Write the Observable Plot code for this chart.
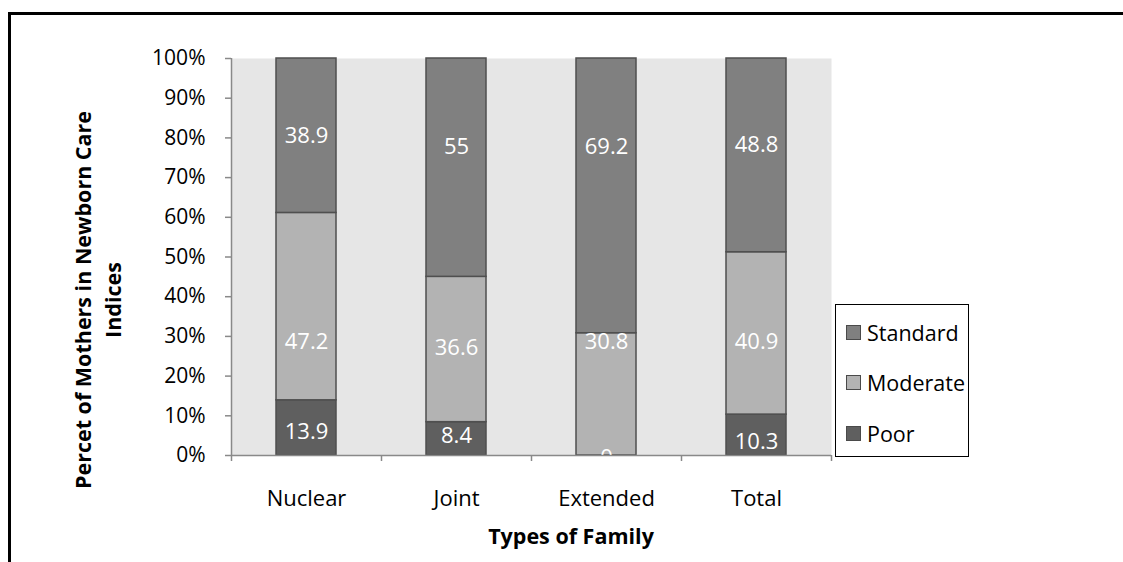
<!DOCTYPE html>
<html>
<head>
<meta charset="utf-8">
<script src="https://cdn.jsdelivr.net/npm/d3@7"></script>
<script src="https://cdn.jsdelivr.net/npm/@observablehq/plot@0.6"></script>
<style>
  html, body { margin: 0; padding: 0; background: #fff; }
  #chart { position: relative; width: 1123px; height: 562px; overflow: hidden; font-family: "Open Sans", sans-serif; }
  #chart svg { position: absolute; left: 0; top: 0; }
  .border { position: absolute; left: 8px; top: 12px; width: 1200px; height: 700px;
            border-top: 3.5px solid #000; border-left: 3.5px solid #000; }
  .ytitle { position: absolute; left: 98px; top: 300px; transform: translate(-50%, -50%) rotate(-90deg);
            font-weight: bold; font-size: 21.5px; line-height: 30px; text-align: center; white-space: nowrap; color: #000; }
  .xtitle { position: absolute; left: 571px; top: 535px; transform: translate(-50%, -50%);
            font-weight: bold; font-size: 21.5px; white-space: nowrap; color: #000; }
  .legend { position: absolute; left: 835px; top: 304px; width: 134px; height: 153px;
            border: 1.5px solid #000; background: #fff; box-sizing: border-box; }
  .legend .row { position: absolute; left: 10px; height: 30px; display: flex; align-items: center;
                 font-size: 21.5px; color: #000; white-space: nowrap; }
  .legend .sw { width: 15px; height: 15px; border: 1px solid #4a4a4a; margin-right: 6px; box-sizing: border-box; }
</style>
</head>
<body>
<div id="chart"></div>
<script>
// Types of family and newborn care levels
const families = ["Nuclear", "Joint", "Extended", "Total"];
const levels = ["Poor", "Moderate", "Standard"];

// Percent of mothers in each care level
const poor = [13.9, 8.4, 0, 10.3];
const moderate = [47.2, 36.6, 30.8, 40.9];
const standard = [38.9, 55, 69.2, 48.8];

// Height (in percent) at which each value label sits
const poorLabelAt = [6.0, 5.0, -0.5, 3.3];
const moderateLabelAt = [28.5, 27.2, 28.7, 28.7];
const standardLabelAt = [80.4, 77.6, 77.6, 78.1];

const yTicks = [0, 10, 20, 30, 40, 50, 60, 70, 80, 90, 100];
const levelColors = ["#5f5f5f", "#b3b3b3", "#808080"];

const series = {Poor: poor, Moderate: moderate, Standard: standard};
const labelAt = {Poor: poorLabelAt, Moderate: moderateLabelAt, Standard: standardLabelAt};

const rows = levels.flatMap(level =>
  families.map((family, i) => ({family, level, value: series[level][i], labelY: labelAt[level][i]}))
);

const axisGray = "#898989";
const half = 75; // half of each category band, in px

const plot = Plot.plot({
  width: 1123,
  height: 562,
  marginLeft: 231,
  marginRight: 292,
  marginTop: 58,
  marginBottom: 107,
  style: {fontFamily: "Open Sans, sans-serif", background: "transparent", color: "#000"},
  x: {domain: families, padding: 0, axis: null},
  y: {domain: [0, 100], axis: null},
  color: {domain: levels, range: levelColors},
  marks: [
    Plot.frame({fill: "#e6e6e6", stroke: null}),
    Plot.barY(rows, {
      x: "family", y: "value", fill: "level", order: levels,
      stroke: "#4f4f4f", strokeWidth: 1.5, insetLeft: 45, insetRight: 45
    }),
    Plot.text(rows, {
      x: "family", y: "labelY", text: d => String(d.value),
      fill: "#fff", fontSize: 22
    }),
    // axis lines
    Plot.ruleY([0], {stroke: axisGray, strokeWidth: 1.5}),
    Plot.ruleX([families[0]], {dx: -half, stroke: axisGray, strokeWidth: 1.5}),
    // category boundary ticks under the x axis
    Plot.ruleX(families, {dx: -half, y1: 0, y2: 0, insetBottom: -6, stroke: axisGray, strokeWidth: 1.5}),
    Plot.ruleX([families[families.length - 1]], {dx: half, y1: 0, y2: 0, insetBottom: -6, stroke: axisGray, strokeWidth: 1.5}),
    Plot.axisY({
      ticks: yTicks, tickFormat: d => d + "%", tickSize: 6, tickPadding: 20,
      stroke: axisGray, fill: "#000", fontSize: 21, label: null, strokeWidth: 1.5
    }),
    Plot.axisX({tickSize: 0, tickPadding: 35, fontSize: 22, fill: "#000", label: null})
  ]
});

const chart = document.getElementById("chart");
chart.appendChild(plot);

// outer border
const border = document.createElement("div");
border.className = "border";
chart.appendChild(border);

// axis titles
const yTitle = document.createElement("div");
yTitle.className = "ytitle";
yTitle.innerHTML = "Percet of Mothers in Newborn Care<br>Indices";
chart.appendChild(yTitle);

const xTitle = document.createElement("div");
xTitle.className = "xtitle";
xTitle.textContent = "Types of Family";
chart.appendChild(xTitle);

// legend, top to bottom: Standard, Moderate, Poor
const legend = document.createElement("div");
legend.className = "legend";
const legendOrder = levels.slice().reverse();
legendOrder.forEach((level, i) => {
  const row = document.createElement("div");
  row.className = "row";
  row.style.top = (12 + i * 50.5) + "px";
  const sw = document.createElement("span");
  sw.className = "sw";
  sw.style.background = levelColors[levels.indexOf(level)];
  const label = document.createElement("span");
  label.textContent = level;
  row.appendChild(sw);
  row.appendChild(label);
  legend.appendChild(row);
});
chart.appendChild(legend);
</script>
</body>
</html>
